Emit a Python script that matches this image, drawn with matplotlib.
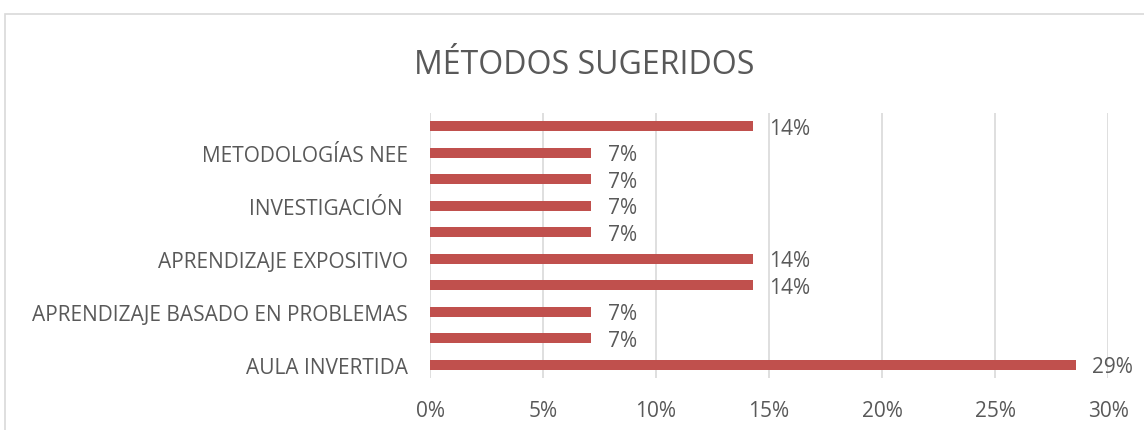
import matplotlib.pyplot as plt
import matplotlib.patches as patches
from matplotlib.ticker import FuncFormatter

# Data (bottom to top, as drawn); Excel hides every other category label
categories = ['AULA INVERTIDA', '', 'APRENDIZAJE BASADO EN PROBLEMAS', '',
              'APRENDIZAJE EXPOSITIVO', '', 'INVESTIGACIÓN ', '',
              'METODOLOGÍAS NEE', '']
values = [0.2857, 0.0714, 0.0714, 0.1429, 0.1429, 0.0714, 0.0714, 0.0714, 0.0714, 0.1429]
x_ticks = [0, 0.05, 0.10, 0.15, 0.20, 0.25, 0.30]

bar_color = '#C0504D'
text_color = '#595959'
grid_color = '#D9D9D9'

plt.rcParams['font.family'] = ['Open Sans', 'DejaVu Sans']

fig = plt.figure(figsize=(11.44, 4.31), dpi=100)
ax = fig.add_axes([0.3759, 0.1206, 0.5927, 0.6149])

# Chart frame
frame = patches.Rectangle((5 / 1144, -0.01), 1.02, 1 - 15 / 431 + 0.01,
                          transform=fig.transFigure, fill=False,
                          edgecolor=grid_color, linewidth=1.2)
fig.patches.append(frame)

pos = range(len(values))
ax.barh(pos, values, height=0.38, color=bar_color, zorder=3)

for y, v in zip(pos, values):
    ax.text(v + 0.0072, y - 0.08, f'{v * 100:.0f}%', va='center', ha='left',
            fontsize=15, color=text_color)

ax.set_xlim(0, 0.30)
ax.set_ylim(-0.5, len(values) - 0.5)
ax.set_xticks(x_ticks)
ax.xaxis.set_major_formatter(FuncFormatter(lambda v, p: f'{v * 100:.0f}%'))
ax.set_yticks(list(pos))
ax.set_yticklabels(categories)
ax.tick_params(axis='both', length=0, labelsize=15, colors=text_color)
ax.tick_params(axis='x', pad=16)
ax.tick_params(axis='y', pad=16)
ax.grid(axis='x', color=grid_color, linewidth=1.2, zorder=0)
for s in ax.spines.values():
    s.set_visible(False)

fig.text(0.511, 0.847, 'MÉTODOS SUGERIDOS', ha='center', va='center',
         fontsize=23, color=text_color)

fig.savefig('out.png', dpi=100)
